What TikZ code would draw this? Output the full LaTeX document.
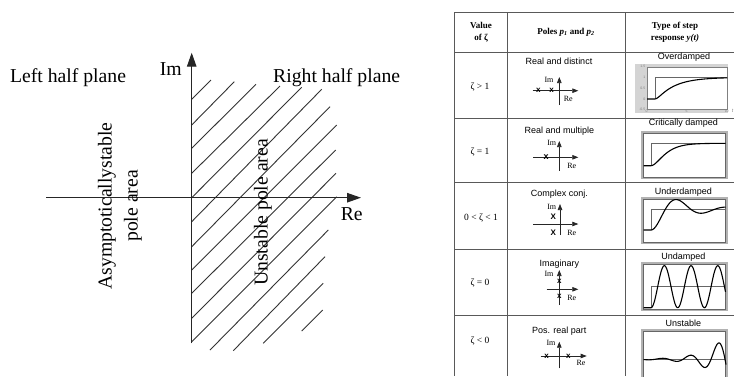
\documentclass[tikz,border=0pt]{standalone}
\usepackage{fontspec}
\setmainfont{Liberation Serif}
\newfontfamily\sansf{Liberation Sans}
\usetikzlibrary{arrows.meta}
\begin{document}
\begin{tikzpicture}[x=1pt,y=-1pt,
  bigtxt/.style={font=\fontsize{19.7}{26}\selectfont, inner sep=0pt},
  axis/.style={line width=1.1pt, draw=black!85, -{Triangle[length=14pt,width=9.5pt]}},
  hatch/.style={line width=0.9pt, draw=black!80},
  grid/.style={draw=black!65, line width=0.8pt},
  hdr/.style={font=\fontsize{9}{12}\selectfont\bfseries, align=center, inner sep=0pt},
  zeta/.style={font=\fontsize{9.5}{11}\selectfont, inner sep=0pt},
  slabel/.style={font=\sansf\fontsize{9}{11}\selectfont, inner sep=0pt},
  small/.style={font=\fontsize{8}{9}\selectfont, inner sep=0pt},
  pax/.style={line width=0.7pt, draw=black!85, -{Triangle[length=6pt,width=4.5pt]}},
  pole/.style={font=\sansf\bfseries\fontsize{8}{9}\selectfont, inner sep=0pt},
  frame/.style={draw=black!30, line width=2pt},
  innerframe/.style={draw=black!60, line width=0.4pt},
  stepl/.style={draw=black!60, line width=0.6pt},
  resp/.style={draw=black, line width=1.1pt},
  tick/.style={font=\sansf\fontsize{3.5}{4}\selectfont, text=black!50, inner sep=0.5pt}
]
\useasboundingbox (0,0) rectangle (734,376);
\fill[white] (0,0) rectangle (734,376);
\clip (0,0) rectangle (734,376);

% ---------------- left: complex plane ----------------
\coordinate (imB) at (191.7,343.3);
\coordinate (imT) at (191.7,52.7);
\coordinate (reL) at (46,197.7);
\coordinate (reR) at (361,197.7);

\foreach \a/\b/\c/\d in {191.7/99.3/211/80, 191.7/125/234.3/81.7, 191.7/148.3/256/84.3,
  191.7/173.3/280/86, 191.7/197.7/301.7/87.3, 191.7/221.7/321.7/89.3,
  191.7/246.7/330/106.7, 191.7/270/336.7/125, 191.7/293.3/335.7/150,
  191.7/318.3/336/173.3, 191.7/341.7/336.7/196.7, 210/350/328.3/230,
  233.3/350.7/325/256.7, 263.3/343.3/323.3/283.3, 301.7/331/322.7/310}
  \draw[hatch] (\a,\b) -- (\c,\d);

\draw[axis] (imB) -- (imT);
\draw[axis] (reL) -- (reR);

\node[bigtxt, anchor=base] (lhp) at (68,82.7) {Left half plane};
\node[bigtxt, anchor=base] (imlab) at (170.8,75) {Im};
\node[bigtxt, anchor=base west] (rhp) at (273,82.7) {Right half plane};
\node[bigtxt, anchor=base] (relab) at (351.7,220.7) {Re};
\node[bigtxt, rotate=90, align=center] (stab) at (120,206) {Asymptoticallystable\\pole area};
\node[bigtxt, rotate=90] (unst) at (263,212.5) {Unstable pole area};

% ---------------- right: table ----------------
\foreach \y in {12.7,52.3,118,182.3,249,315.7}
  \draw[grid] (454.3,\y) -- (734,\y);
\foreach \x in {454.3,507.3,625.7}
  \draw[grid] (\x,12.7) -- (\x,376);

\node[hdr] (h1) at (481,32) {Value\\of ζ};
\node[hdr] (h2) at (566,32.7) {Poles \textit{p\textsubscript{1}} and \textit{p\textsubscript{2}}};
\node[hdr] (h3) at (675,32.5) {Type of step\\response \textit{y(t)}};

\node[zeta] (z1) at (480,86.7) {ζ > 1};
\node[zeta] (z2) at (480,151.7) {ζ = 1};
\node[zeta] (z3) at (481,218.3) {0 < ζ < 1};
\node[zeta] (z4) at (480,283.3) {ζ = 0};
\node[zeta] (z5) at (480,340.7) {ζ < 0};

\node[slabel] (l1) at (559,61) {Real and distinct};
\node[slabel] (l2) at (559.3,131) {Real and multiple};
\node[slabel] (l3) at (559.3,194.3) {Complex conj.};
\node[slabel] (l4) at (559.3,264.3) {Imaginary};
\node[slabel] (l5) at (559.3,330.7) {Pos. real part};

\node[slabel] (t1) at (684,57.3) {Overdamped};
\node[slabel] (t2) at (683.3,123.3) {Critically damped};
\node[slabel] (t3) at (683.3,191.7) {Underdamped};
\node[slabel] (t4) at (683.3,256.7) {Undamped};
\node[slabel] (t5) at (683.3,323.3) {Unstable};

% pole diagrams
% row 1
\draw[pax] (559.3,105) -- (559.3,77);
\draw[pax] (532.7,90.7) -- (578.3,90.7);
\node[small] (i1) at (549,80.3) {Im};
\node[small] (r1) at (568.3,99) {Re};
\node[pole] (p11) at (538.3,90.7) {x};
\node[pole] (p12) at (551.7,90.7) {x};
% row 2
\draw[pax] (559.3,170.7) -- (559.3,141);
\draw[pax] (533.3,157.3) -- (578.3,157.3);
\node[small] (i2) at (551.7,143.3) {Im};
\node[small] (r2) at (571.7,165.7) {Re};
\node[pole, font=\sansf\bfseries\fontsize{9}{10}\selectfont] (p21) at (546,157.3) {x};
% row 3
\draw[pax] (560,235) -- (560,204);
\draw[pax] (533.3,224) -- (578.3,224);
\node[small] (i3) at (551.7,206.7) {Im};
\node[small] (r3) at (571.7,232.7) {Re};
\node[pole] (p31) at (553.3,216.7) {X};
\node[pole] (p32) at (553.3,232.7) {X};
% row 4
\draw[pax] (559.3,305) -- (559.3,270);
\draw[pax] (546.7,289.3) -- (578.3,289.3);
\node[small] (i4) at (549,274.3) {Im};
\node[small] (r4) at (571.7,297.7) {Re};
\node[pole] (p41) at (559.3,281.7) {x};
\node[pole] (p42) at (559.3,296) {x};
% row 5
\draw[pax] (559.3,368.3) -- (559.3,341.7);
\draw[pax] (540.7,356) -- (586.7,356);
\node[small] (i5) at (551,342.7) {Im};
\node[small] (r5) at (581,363.3) {Re};
\node[pole] (p51) at (546.7,356) {x};
\node[pole] (p52) at (568.3,356) {x};

% step response plots
% row 1 (figure style)
\fill[black!17] (635,64.3) rectangle (728.3,113.3);
\draw[fill=white, draw=black!50, line width=0.4pt] (646.7,66.7) rectangle (727.3,109);
\node[tick, anchor=east] at (646,66.7) {1.5};
\node[tick, anchor=east] at (646,77.3) {1};
\node[tick, anchor=east] at (646,88.3) {0.5};
\node[tick, anchor=east] at (646,99) {0};
\node[tick, anchor=east] at (646,109) {-0.5};
\node[tick, anchor=north] at (646.7,109.5) {0};
\node[tick, anchor=north] at (686.7,109.5) {5};
\node[tick, anchor=north] at (726.7,109.5) {10};
\node[tick, anchor=north, font=\sansf\itshape\fontsize{5}{6}\selectfont] at (732.5,108.5) {t};
\draw[stepl] (654.8,99) -- (654.8,77.4) -- (727.3,77.4);
\draw[resp] (647,99) -- plot[domain=0:9,samples=60] ({654.8+8.06*\x},{99-21.6*(1-(3*exp(-0.45*\x)-0.45*exp(-3*\x))/2.55)});

% row 2
\draw[frame] (642.3,131.7) rectangle (726.7,178.3);
\draw[innerframe] (643.5,132.9) rectangle (725.5,177.1);
\draw[stepl] (651,165.7) -- (651,143.3) -- (725.5,143.3);
\draw[resp] (643.5,165.7) -- plot[domain=0:9.1,samples=60] ({651+8.2*\x},{165.7-22.4*(1-exp(-\x)*(1+\x))});

% row 3
\draw[frame] (642.3,197.7) rectangle (726.7,243.3);
\draw[innerframe] (643.5,198.9) rectangle (725.5,242.1);
\draw[stepl] (651,230) -- (651,209) -- (725.5,209);
\draw[resp] (643.5,230) -- plot[domain=0:74.5,samples=120] ({651+\x},{230-21*(1-exp(-0.032*\x)*(cos(7.2*\x)+0.2546*sin(7.2*\x)))});

% row 4
\draw[frame] (642.3,263.3) rectangle (726.7,310);
\draw[innerframe] (643.5,264.5) rectangle (725.5,308.8);
\draw[stepl] (651,307.7) -- (651,286.7) -- (725.5,286.7);
\draw[resp] (643.5,307.7) -- plot[domain=0:74.5,samples=150] ({651+\x},{307.7-21*(1-cos(13.48*\x))});

% row 5
\draw[frame] (642.3,330) rectangle (726.7,385);
\draw[innerframe] (643.5,331.2) rectangle (725.5,385);
\draw[stepl] (643.5,359.3) -- (725.5,359.3);
\draw[resp] plot[domain=643.5:726,samples=150] (\x,{359.3-16*exp(0.0495*(\x-718))*cos(12.83*(\x-718))});

\end{tikzpicture}
\end{document}
